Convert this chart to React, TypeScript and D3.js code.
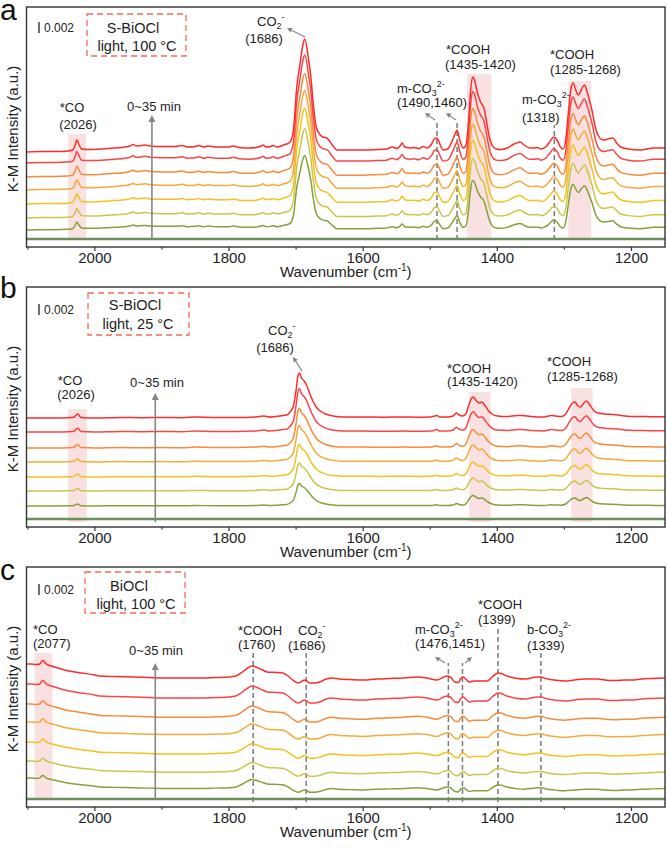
import React from 'react';
import * as d3 from 'd3';

// ---------- data ----------
const TIMES_MIN = [0, 5, 10, 15, 20, 25, 30, 35];
const COLORS = ['#6b8f5a', '#86a13a', '#c9c64a', '#f2c21e', '#f5aa3c', '#f88a3a', '#fb4444', '#ff2b2b'];
const MAJOR_TICKS = [2000, 1800, 1600, 1400, 1200];
const MINOR_TICKS = [2100, 1900, 1700, 1500, 1300];
const WN_DOMAIN: [number, number] = [2102, 1150];
const Y_DOMAIN: [number, number] = [0, 240]; // a.u. ; 0.002 K-M ~ 11 units

// panel a : S-BiOCl, light, 100 °C  (profile of the 35 min spectrum, above its baseline)
const PROFILE_A: [number, number][] = [
  [2102, 0], [2080, 0.5], [2060, 0.5], [2040, 1], [2033, 2], [2029, 8], [2027, 12], [2024, 8], [2020, 3],
  [2010, 2.5], [1990, 3], [1970, 4], [1955, 5], [1948, 6], [1943, 7.5], [1938, 6], [1930, 6.5], [1925, 7],
  [1918, 6], [1900, 5.5], [1880, 5.5], [1870, 6.5], [1862, 5], [1850, 5.5], [1845, 6.5], [1838, 5], [1831, 6],
  [1820, 5], [1800, 5], [1794, 6], [1785, 4.5], [1770, 4], [1760, 4.5], [1752, 6], [1749, 7], [1745, 5],
  [1738, 5.5], [1734, 6.5], [1729, 5], [1722, 6], [1719, 7], [1714, 8], [1709, 10], [1704, 22], [1699, 65],
  [1694, 89], [1690, 107], [1687, 113], [1682, 95], [1678, 75], [1675, 52], [1670, 25], [1664, 17], [1660, 15],
  [1654, 14], [1646, 7], [1639, 2], [1625, 2], [1600, 2], [1580, 2.5], [1565, 3], [1557, 5], [1550, 3.5],
  [1545, 6], [1542, 9], [1538, 5], [1530, 4], [1525, 4.5], [1517, 3.5], [1510, 5.5], [1505, 4], [1498, 8],
  [1494, 13], [1490, 14], [1485, 7], [1481, 2], [1474, 3], [1468, 10], [1463, 18], [1460, 22], [1456, 12],
  [1451, 4], [1447, 6], [1443, 30], [1440, 60], [1437, 75], [1434, 72], [1430, 60], [1425, 50], [1420, 44],
  [1416, 30], [1412, 15], [1408, 7], [1402, 3], [1395, 2.5], [1385, 4], [1375, 8], [1366, 10], [1360, 7],
  [1352, 4], [1345, 4], [1340, 4.5], [1335, 3], [1328, 5], [1322, 10], [1316, 15], [1311, 12], [1306, 5],
  [1302, 3], [1298, 12], [1294, 40], [1290, 64], [1287, 69], [1283, 62], [1279, 57], [1275, 62], [1270, 67],
  [1266, 60], [1262, 50], [1258, 39], [1254, 25], [1250, 17], [1242, 12], [1235, 13], [1228, 14], [1222, 9],
  [1216, 5], [1205, 3], [1187, 2], [1167, 4], [1150, 4],
];
const BASELINES_A = [8, 17, 29, 43, 57, 70, 84, 95];
const SCALES_A = [0, 0.66, 0.79, 0.85, 0.88, 0.915, 0.955, 1];
const BANDS_A: [number, number, number, number][] = [[2040, 2013, 7, 113], [1445, 1409, 7, 173], [1294, 1260, 7, 166]];
const DASHES_A: [number, number, number][] = [[1490, 7, 124], [1460, 7, 124], [1315, 7, 122]];
const TIME_ARROW_A: [number, number, number] = [1915, 7, 132];

// panel b : S-BiOCl, light, 25 °C
const PROFILE_B: [number, number][] = [
  [2102, 0], [2060, 0], [2040, 0.3], [2031, 0.8], [2028, 3], [2026, 4], [2024, 3], [2021, 0.5], [2000, 0],
  [1960, 0.5], [1930, 0.3], [1900, 0.5], [1870, 0.3], [1850, 1], [1820, 0.5], [1790, 0.5], [1760, 1],
  [1748, 2], [1740, 1], [1730, 1.5], [1720, 2.5], [1714, 3], [1709, 6], [1704, 12], [1700, 28], [1697, 43],
  [1695, 45], [1692, 40], [1688, 37], [1684, 32], [1680, 25], [1675, 17], [1670, 11], [1664, 7], [1656, 4],
  [1645, 2], [1630, 1], [1600, 1], [1570, 0.8], [1540, 1], [1520, 0.8], [1500, 1], [1493, 2], [1490, 2.5],
  [1486, 1], [1475, 1], [1466, 2], [1461, 5], [1457, 3], [1452, 2], [1447, 4], [1443, 12], [1439, 19],
  [1436, 21], [1431, 17], [1427, 15], [1423, 16], [1419, 13], [1414, 8], [1408, 4], [1400, 2], [1385, 1.5],
  [1370, 2.5], [1363, 2.5], [1350, 1.5], [1330, 1], [1320, 2.5], [1313, 2], [1305, 1.5], [1298, 4],
  [1293, 10], [1288, 15], [1284, 16], [1280, 12], [1276, 11], [1271, 15], [1267, 17], [1262, 13], [1257, 8],
  [1250, 5], [1240, 4], [1228, 3.5], [1220, 3], [1210, 2], [1195, 1.5], [1180, 1.5], [1165, 1.2], [1150, 1.2],
];
const BASELINES_B = [8, 21, 36, 50, 65, 79, 95, 109];
const SCALES_B = [0, 0.5, 0.62, 0.72, 0.81, 0.88, 0.96, 1];
const BANDS_B: [number, number, number, number][] = [[2040, 2012, 5, 118], [1442, 1410, 5, 135], [1290, 1258, 5, 139]];
const DASHES_B: [number, number, number][] = [];
const TIME_ARROW_B: [number, number, number] = [1910, 5, 134];

// panel c : BiOCl, light, 100 °C
const PROFILE_C: [number, number][] = [
  [2102, 0], [2095, 0], [2088, -0.5], [2082, 0], [2079, 3], [2077, 3.5], [2074, 1], [2070, -1], [2065, -2],
  [2055, -4], [2045, -6], [2030, -8], [2020, -9], [2000, -11], [1993, -12], [1970, -12.5], [1943, -13],
  [1920, -13.5], [1893, -14], [1870, -14], [1843, -14], [1820, -13.5], [1800, -13], [1790, -12], [1780, -8],
  [1772, -4], [1766, -2], [1760, -3], [1755, -4.5], [1750, -6], [1743, -8], [1730, -8.5], [1720, -9],
  [1712, -12], [1705, -16], [1697, -19], [1692, -17.5], [1688, -16], [1684, -17], [1680, -19], [1672, -19],
  [1665, -18], [1655, -15], [1648, -14], [1635, -15], [1620, -15.5], [1600, -16], [1580, -15], [1560, -14.5],
  [1540, -14], [1520, -13], [1505, -14], [1490, -16], [1480, -13], [1475, -12], [1470, -13], [1463, -18],
  [1458, -18.5], [1455, -15], [1451, -13], [1447, -15], [1442, -18], [1435, -17], [1425, -17], [1415, -17],
  [1408, -13], [1402, -10], [1399, -9], [1394, -9.5], [1386, -12], [1380, -13], [1370, -14.5], [1360, -15],
  [1350, -14], [1340, -13], [1336, -13], [1325, -15], [1310, -16.5], [1300, -17], [1285, -16], [1270, -15],
  [1250, -15], [1240, -16], [1225, -16.5], [1210, -16], [1200, -16], [1185, -15], [1170, -14.5], [1150, -14],
];
const BASELINES_C = [8, 29, 46, 65, 85, 103, 123, 143];
const SCALES_C = [0, 0.75, 0.8, 0.85, 0.9, 0.95, 1, 1];
const BANDS_C: [number, number, number, number][] = [[2090, 2063, 7, 154]];
const DASHES_C: [number, number, number][] = [[1764, 5, 155], [1685, 5, 155], [1473, 5, 144], [1452, 5, 144], [1399, 5, 179], [1335, 5, 155]];
const TIME_ARROW_C: [number, number, number] = [1910, 7, 144];

// ---------- layout ----------
const W = 667;
const H = 848;
const LEFT = 26.5;
const RIGHT = 665;
const PLOT_H = 240;
const FONT = "'Liberation Sans', Arial, Helvetica, sans-serif";
const TXT = '#222';
const ARROW_C = '#858585';

const Arrow = ({ x1, y1, x2, y2, head = 5, w = 1.2 }: any) => {
  const a = Math.atan2(y2 - y1, x2 - x1);
  const bx = x2 - head * Math.cos(a);
  const by = y2 - head * Math.sin(a);
  const px = Math.sin(a) * head * 0.5;
  const py = -Math.cos(a) * head * 0.5;
  return (
    <g>
      <line x1={x1} y1={y1} x2={bx} y2={by} stroke={ARROW_C} strokeWidth={w} />
      <polygon points={`${x2},${y2} ${bx + px},${by + py} ${bx - px},${by - py}`} fill={ARROW_C} />
    </g>
  );
};

const Chem = ({ x, y, main, sub, sup, anchor = 'start' }: any) => (
  <text x={x} y={y} fontSize={13} fill={TXT} textAnchor={anchor} fontFamily={FONT}>
    {main}
    {sub && <tspan fontSize={9} dy={3}>{sub}</tspan>}
    {sup && <tspan fontSize={9} dy={-9}>{sup}</tspan>}
  </text>
);

const Lbl = ({ x, y, t, anchor = 'start', size = 13 }: any) => (
  <text x={x} y={y} fontSize={size} fill={TXT} textAnchor={anchor} fontFamily={FONT}>{t}</text>
);

function Panel({ top, letter, letterY, profile, baselines, scales, bands, dashes, timeArrow, idx, children }: any) {
  const bottom = top + PLOT_H;
  const x = d3.scaleLinear().domain(WN_DOMAIN).range([LEFT, RIGHT]);
  const y = d3.scaleLinear().domain(Y_DOMAIN).range([bottom, top]);
  const line = d3
    .line<[number, number]>()
    .x((d) => x(d[0]))
    .y((d) => y(d[1]))
    .curve(d3.curveMonotoneX);
  const clipId = `clip-${idx}`;
  return (
    <g>
      <defs>
        <clipPath id={clipId}>
          <rect x={LEFT} y={top} width={RIGHT - LEFT} height={PLOT_H} />
        </clipPath>
      </defs>
      <g clipPath={`url(#${clipId})`}>
        {bands.map((b: number[], i: number) => (
          <rect key={i} x={x(b[0])} y={y(b[3])} width={x(b[1]) - x(b[0])} height={y(b[2]) - y(b[3])}
            fill="#f7d4d4" fillOpacity={0.7} />
        ))}
        {dashes.map((d: number[], i: number) => (
          <line key={i} x1={x(d[0])} x2={x(d[0])} y1={y(d[1])} y2={y(d[2])} stroke="#7a7a7a"
            strokeWidth={1.5} strokeDasharray="5 3" />
        ))}
        {TIMES_MIN.map((t, i) => {
          const pts: [number, number][] = profile.map((p: [number, number]) => [p[0], baselines[i] + scales[i] * p[1]]);
          return (
            <path key={t} d={line(pts) || ''} fill="none" stroke={COLORS[i]}
              strokeWidth={i === 0 ? 2.6 : 1.5} strokeLinejoin="round" />
          );
        })}
      </g>
      <Arrow x1={x(timeArrow[0])} y1={y(timeArrow[1])} x2={x(timeArrow[0])} y2={y(timeArrow[2])} head={7} w={1.6} />
      <rect x={LEFT} y={top} width={RIGHT - LEFT} height={PLOT_H} fill="none" stroke="#333" strokeWidth={1.4} />
      {MAJOR_TICKS.map((t) => (
        <g key={t}>
          <line x1={x(t)} x2={x(t)} y1={bottom} y2={bottom + 4} stroke="#333" strokeWidth={1.2} />
          <text x={x(t)} y={bottom + 15.5} fontSize={15} textAnchor="middle" fill={TXT} fontFamily={FONT}>{t}</text>
        </g>
      ))}
      {MINOR_TICKS.map((t) => (
        <line key={t} x1={x(t)} x2={x(t)} y1={bottom} y2={bottom + 2.5} stroke="#333" strokeWidth={1.2} />
      ))}
      <text x={(LEFT + RIGHT) / 2} y={bottom + 29.5} fontSize={15} textAnchor="middle" fill={TXT} fontFamily={FONT}>
        Wavenumber (cm<tspan fontSize={10} dy={-6}>-1</tspan><tspan dy={6}>)</tspan>
      </text>
      <text transform={`translate(17.5,${top + PLOT_H / 2 + 2}) rotate(-90)`} fontSize={15} textAnchor="middle"
        fill={TXT} fontFamily={FONT}>K-M Intensity (a.u.)</text>
      <text x={0} y={letterY} fontSize={30} fill="#111" fontFamily={FONT}>{letter}</text>
      {children}
    </g>
  );
}

const ScaleBar = ({ y }: any) => (
  <g>
    <line x1={39} x2={39} y1={y - 10} y2={y + 1} stroke="#222" strokeWidth={1.3} />
    <text x={44} y={y} fontSize={12} fill={TXT} fontFamily={FONT}>0.002</text>
  </g>
);

const Box = ({ x, y, w, h, l1, l2, c1, c2, b1, b2 }: any) => (
  <g>
    <rect x={x} y={y} width={w} height={h} fill="none" stroke="#f26b5b" strokeWidth={1.3} strokeDasharray="6 4" />
    <text x={c1} y={b1} fontSize={14.5} textAnchor="middle" fill={TXT} fontFamily={FONT}>{l1}</text>
    <text x={c2} y={b2} fontSize={14.5} textAnchor="middle" fill={TXT} fontFamily={FONT}>{l2}</text>
  </g>
);

export default function App() {
  return (
    <svg width={W} height={H} viewBox={`0 0 ${W} ${H}`}
      style={{ position: 'absolute', left: 0, top: 0, background: '#fff' }}>
      <rect width={W} height={H} fill="#fff" />
      {/* panel a */}
      <Panel idx={0} top={7} letter="a" letterY={20} profile={PROFILE_A} baselines={BASELINES_A} scales={SCALES_A}
        bands={BANDS_A} dashes={DASHES_A} timeArrow={TIME_ARROW_A}>
        <ScaleBar y={32} />
        <Box x={87} y={14} w={99} h={42} l1="S-BiOCl" l2="light, 100 °C" c1={133} c2={137} b1={33} b2={51} />
        <Lbl x={72} y={112} t="*CO" anchor="middle" />
        <Lbl x={78} y={129} t="(2026)" anchor="middle" />
        <Lbl x={154} y={111} t="0~35 min" anchor="middle" />
        <Chem x={257} y={26} main="CO" sub="2" sup="-" />
        <Lbl x={264} y={43} t="(1686)" anchor="middle" />
        <Arrow x1={305} y1={37} x2={287} y2={28} />
        <Chem x={397} y={93} main="m-CO" sub="3" sup="2-" />
        <Lbl x={397} y={107} t="(1490,1460)" />
        <Arrow x1={435} y1={120} x2={425} y2={113} />
        <Arrow x1={456} y1={120} x2={446} y2={113} />
        <Lbl x={446} y={54} t="*COOH" />
        <Lbl x={445} y={69} t="(1435-1420)" />
        <Chem x={522} y={104} main="m-CO" sub="3" sup="2-" />
        <Lbl x={522} y={122} t="(1318)" />
        <Lbl x={550} y={59} t="*COOH" />
        <Lbl x={550} y={74} t="(1285-1268)" />
      </Panel>
      {/* panel b */}
      <Panel idx={1} top={287} letter="b" letterY={298} profile={PROFILE_B} baselines={BASELINES_B} scales={SCALES_B}
        bands={BANDS_B} dashes={DASHES_B} timeArrow={TIME_ARROW_B}>
        <ScaleBar y={314} />
        <Box x={88} y={293} w={101} h={42} l1="S-BiOCl" l2="light, 25 °C" c1={135} c2={138} b1={310} b2={329} />
        <Lbl x={70} y={385} t="*CO" anchor="middle" />
        <Lbl x={76} y={399} t="(2026)" anchor="middle" />
        <Lbl x={157} y={387} t="0~35 min" anchor="middle" />
        <Chem x={268} y={335} main="CO" sub="2" sup="-" />
        <Lbl x={275} y={352} t="(1686)" anchor="middle" />
        <Arrow x1={302} y1={371} x2={293} y2={357} />
        <Lbl x={447} y={373} t="*COOH" />
        <Lbl x={447} y={386} t="(1435-1420)" />
        <Lbl x={547} y={366} t="*COOH" />
        <Lbl x={547} y={381} t="(1285-1268)" />
      </Panel>
      {/* panel c */}
      <Panel idx={2} top={567} letter="c" letterY={580} profile={PROFILE_C} baselines={BASELINES_C} scales={SCALES_C}
        bands={BANDS_C} dashes={DASHES_C} timeArrow={TIME_ARROW_C}>
        <ScaleBar y={594} />
        <Box x={85} y={572} w={100} h={41} l1="BiOCl" l2="light, 100 °C" c1={129} c2={136} b1={591} b2={609} />
        <Lbl x={33} y={634} t="*CO" />
        <Lbl x={33} y={648} t="(2077)" />
        <Lbl x={156} y={655} t="0~35 min" anchor="middle" />
        <Lbl x={238} y={635} t="*COOH" />
        <Lbl x={238} y={649} t="(1760)" />
        <Chem x={298} y={635} main="CO" sub="2" sup="-" />
        <Lbl x={288} y={650} t="(1686)" />
        <Chem x={415} y={634} main="m-CO" sub="3" sup="2-" />
        <Lbl x={415} y={648} t="(1476,1451)" />
        <Arrow x1={445} y1={663} x2={435} y2={657} />
        <Arrow x1={465} y1={663} x2={472} y2={657} />
        <Lbl x={478} y={609} t="*COOH" />
        <Lbl x={478} y={624} t="(1399)" />
        <Chem x={527} y={634} main="b-CO" sub="3" sup="2-" />
        <Lbl x={527} y={650} t="(1339)" />
      </Panel>
    </svg>
  );
}
